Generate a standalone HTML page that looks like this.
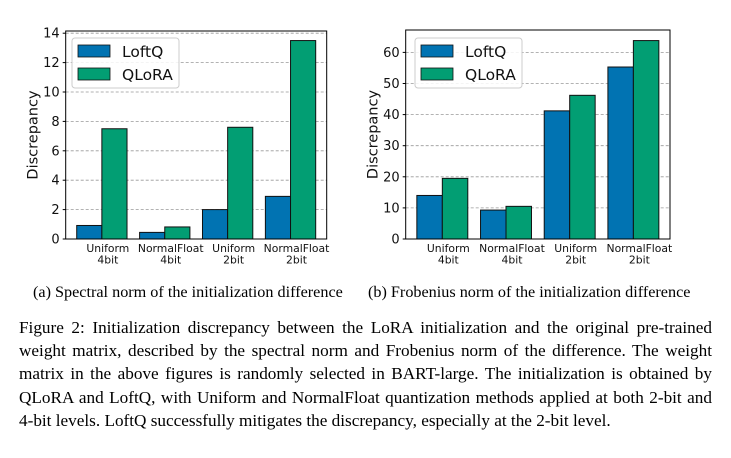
<!DOCTYPE html>
<html><head><meta charset="utf-8"><style>
body{margin:0;width:731px;height:458px;background:#fff;overflow:hidden;position:relative;font-family:"Liberation Serif",serif}
svg{position:absolute;left:0;top:0}
.cap{position:absolute;font-size:16.2px;white-space:nowrap;top:283px}
.body{position:absolute;left:19px;width:693px;font-size:17.2px;line-height:23.2px;top:316px}
.ln{text-align:justify;text-align-last:justify;white-space:nowrap;height:23.2px}
.ln.last{text-align-last:left}
</style></head><body>
<svg width="731" height="280" id="svg"></svg>
<div class="cap" style="left:33px">(a) Spectral norm of the initialization difference</div>
<div class="cap" style="left:368px">(b) Frobenius norm of the initialization difference</div>
<div class="body">
<div class="ln">Figure 2: Initialization discrepancy between the LoRA initialization and the original pre-trained</div>
<div class="ln">weight matrix, described by the spectral norm and Frobenius norm of the difference. The weight</div>
<div class="ln">matrix in the above figures is randomly selected in BART-large. The initialization is obtained by</div>
<div class="ln">QLoRA and LoftQ, with Uniform and NormalFloat quantization methods applied at both 2-bit and</div>
<div class="ln last">4-bit levels. LoftQ successfully mitigates the discrepancy, especially at the 2-bit level.</div>
</div>
<script>
const categories=[["Uniform","4bit"],["NormalFloat","4bit"],["Uniform","2bit"],["NormalFloat","2bit"]];
const seriesNames=["LoftQ","QLoRA"];
const spectralLoftQ=[0.92,0.45,2.0,2.9];
const spectralQLoRA=[7.5,0.82,7.6,13.5];
const frobLoftQ=[14.0,9.3,41.2,55.3];
const frobQLoRA=[19.5,10.5,46.2,63.8];
const spectralTicks=[0,2,4,6,8,10,12,14];
const frobTicks=[0,10,20,30,40,50,60];
const colors=["#0173b2","#029e73"];
const NS="http://www.w3.org/2000/svg";
const svg=document.getElementById('svg');
function mk(tag,attrs,parent){const e=document.createElementNS(NS,tag);for(const k in attrs)e.setAttribute(k,attrs[k]);(parent||svg).appendChild(e);return e;}
function chart(name,L,R,T,B,ymax,ticks,s1,s2,legX){
  const g=mk('g',{});
  
  
  const xs=v=>L+(v+0.575)*(R-L)/4.15;
  const ys=v=>B-v*(B-T)/ymax;
  ticks.forEach(t=>{
    if(t>0){const gl=mk('line',{x1:L,x2:R,y1:ys(t),y2:ys(t),stroke:'#999','stroke-dasharray':'3,2','stroke-width':0.8},g);
      }
    const tl=mk('text',{x:L-6,y:ys(t)+4.5,'text-anchor':'end','font-size':'13','font-family':'DejaVu Sans, sans-serif',fill:'#111'},g);
    tl.textContent=t;
    
    mk('line',{x1:L-3,x2:L,y1:ys(t),y2:ys(t),stroke:'#000'},g);
  });
  const w=0.4*(R-L)/4.15;
  [s1,s2].forEach((s,si)=>s.forEach((v,i)=>{
    const x=si===0?xs(i)-w:xs(i);
    const r=mk('rect',{x:x,y:ys(v),width:w,height:B-ys(v),fill:colors[si],stroke:'#111','stroke-width':1},g);
    
    
  }));
  categories.forEach((c,i)=>{
    c.forEach((line,j)=>{
      const t=mk('text',{x:xs(i)+6,y:B+13+j*11.5,'text-anchor':'middle','font-size':'10.8','font-family':'DejaVu Sans, sans-serif',fill:'#111'},g);
      t.textContent=line;
      
    });
  });
  mk('rect',{x:L,y:T,width:R-L,height:B-T,fill:'none',stroke:'#000','stroke-width':1},g);
  const yl=mk('text',{transform:`translate(${L-28},${(T+B)/2}) rotate(-90)`,'text-anchor':'middle','font-size':'14.5','font-family':'DejaVu Sans, sans-serif',fill:'#111'},g);
  yl.textContent='Discrepancy';
  
  const lg=mk('g',{},g);
  
  mk('rect',{x:legX,y:38,width:107,height:50,rx:3,fill:'#fff','fill-opacity':0.85,stroke:'#ccc'},lg);
  seriesNames.forEach((n,i)=>{
    mk('rect',{x:legX+6,y:45+i*23,width:32,height:12,fill:colors[i],stroke:'#111','stroke-width':0.8},lg);
    const t=mk('text',{x:legX+50,y:57+i*23,'font-size':'15.5','font-family':'DejaVu Sans, sans-serif',fill:'#111'},lg);
    t.textContent=n;
    
  });
}
chart('spectral-chart',65.7,326.7,31,239,14.15,spectralTicks,spectralLoftQ,spectralQLoRA,72);
chart('frobenius-chart',405.7,670,30,239,67.2,frobTicks,frobLoftQ,frobQLoRA,415);
</script>
</body></html>
